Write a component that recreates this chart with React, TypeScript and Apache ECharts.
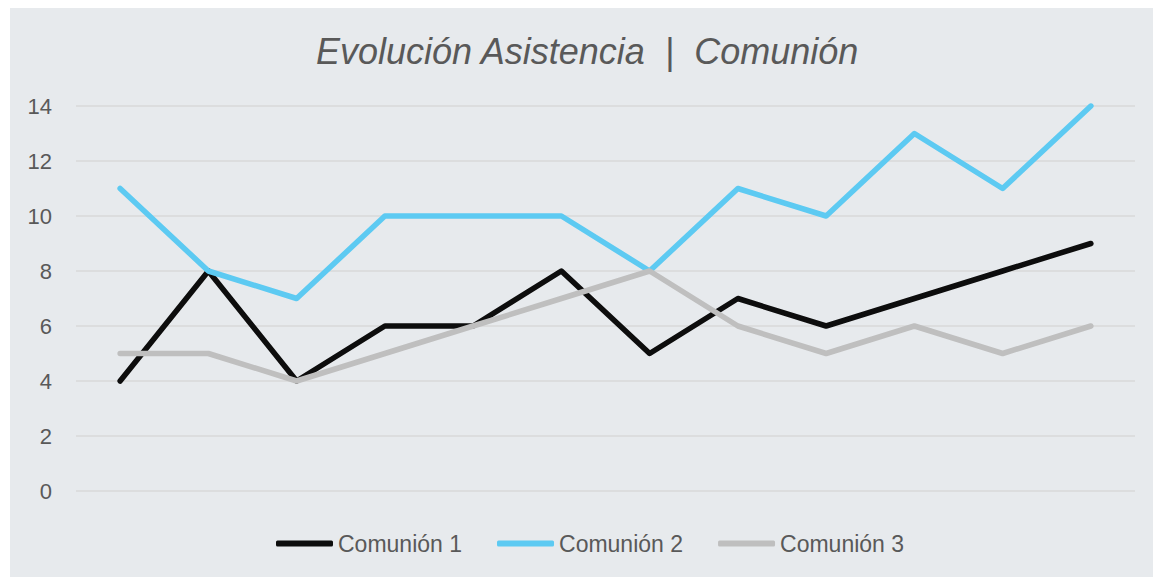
import React, { useEffect, useRef } from "react";
import * as echarts from "echarts";

const categories = ["1", "2", "3", "4", "5", "6", "7", "8", "9", "10", "11", "12"];
const comunion1 = [4, 8, 4, 6, 6, 8, 5, 7, 6, 7, 8, 9];
const comunion2 = [11, 8, 7, 10, 10, 10, 8, 11, 10, 13, 11, 14];
const comunion3 = [5, 5, 4, 5, 6, 7, 8, 6, 5, 6, 5, 6];
const seriesNames = ["Comunión 1", "Comunión 2", "Comunión 3"];
const titleText = "Evolución Asistencia  |  Comunión";

export default function App() {
  const ref = useRef<HTMLDivElement>(null);
  useEffect(() => {
    if (!ref.current) return;
    const chart = echarts.init(ref.current, null, { renderer: "svg" });
    const mk = (name: string, data: number[], color: string) => ({
      name,
      type: "line",
      data,
      symbol: "none",
      lineStyle: { width: 5.5, color, cap: "round", join: "round" },
      itemStyle: { color },
    });
    chart.setOption({
      animation: false,
      backgroundColor: "#E7EAED",
      title: {
        text: titleText,
        left: 306,
        top: 25,
        padding: 0,
        textStyle: {
          fontFamily: "Liberation Sans",
          fontStyle: "italic",
          fontWeight: "normal",
          fontSize: 36,
          color: "#595959",
        },
      },
      legend: {
        data: seriesNames.map((n) => ({ name: n, icon: "roundRect" })),
        top: 519,
        left: 261,
        itemWidth: 57,
        itemHeight: 6,
        itemGap: 35,
        textStyle: { fontFamily: "Liberation Sans", fontSize: 23, color: "#595959" },
      },
      grid: { left: 66, right: 18, top: 98, bottom: 86, containLabel: false },
      xAxis: {
        type: "category",
        data: categories,
        boundaryGap: true,
        axisLine: { show: false },
        axisTick: { show: false },
        axisLabel: { show: false },
      },
      yAxis: {
        type: "value",
        min: 0,
        max: 14,
        interval: 2,
        axisLine: { show: false },
        axisTick: { show: false },
        axisLabel: { margin: 24, fontFamily: "Liberation Sans", fontSize: 22, color: "#595959" },
        splitLine: { lineStyle: { color: "#D9D9D9", width: 1.5 } },
      },
      series: [
        mk(seriesNames[0], comunion1, "#0D0D0D"),
        mk(seriesNames[1], comunion2, "#5DCAF2"),
        mk(seriesNames[2], comunion3, "#BFBFBF"),
      ],
    });
    return () => chart.dispose();
  }, []);
  return (
    <div
      ref={ref}
      style={{ position: "absolute", left: 10, top: 8, width: 1143, height: 569 }}
    />
  );
}
